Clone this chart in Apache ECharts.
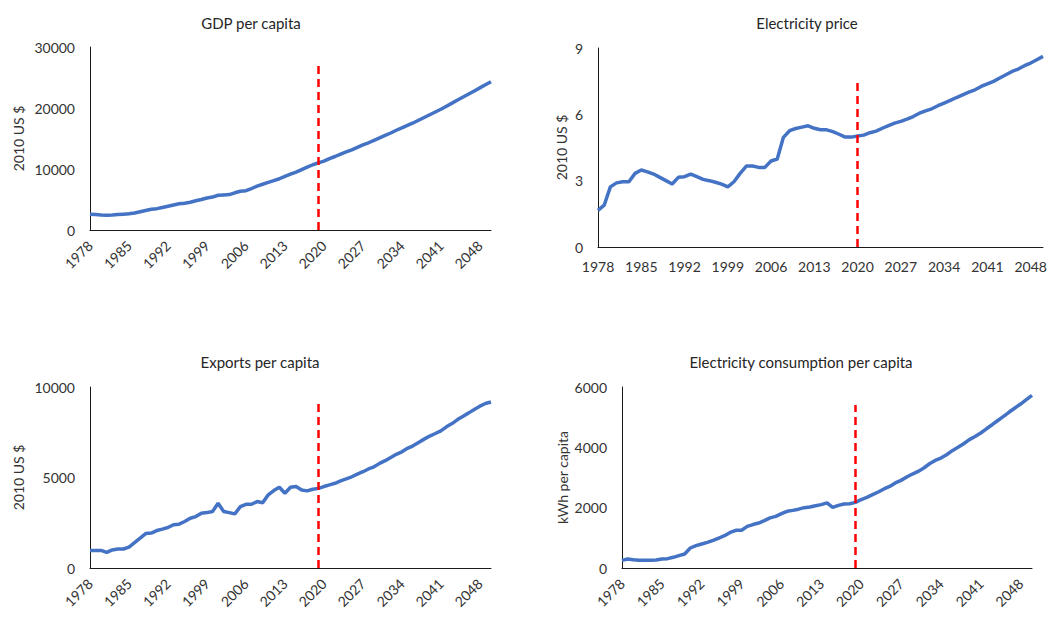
<!DOCTYPE html>
<html>
<head>
<meta charset="utf-8">
<script src="https://cdn.jsdelivr.net/npm/echarts@6/dist/echarts.min.js"></script>
<style>
html,body{margin:0;padding:0;background:#fff;}
#chart{width:1050px;height:617px;}
</style>
</head>
<body>
<div id="chart"></div>
<script>
const years = ['1978','1979','1980','1981','1982','1983','1984','1985','1986','1987','1988','1989','1990','1991','1992','1993','1994','1995','1996','1997','1998','1999','2000','2001','2002','2003','2004','2005','2006','2007','2008','2009','2010','2011','2012','2013','2014','2015','2016','2017','2018','2019','2020','2021','2022','2023','2024','2025','2026','2027','2028','2029','2030','2031','2032','2033','2034','2035','2036','2037','2038','2039','2040','2041','2042','2043','2044','2045','2046','2047','2048','2049','2050'];

const gdpPerCapita = [2600,2550,2450,2400,2450,2550,2600,2650,2800,3000,3200,3400,3500,3700,3900,4100,4300,4400,4550,4800,5000,5250,5400,5700,5750,5800,6100,6350,6450,6800,7200,7500,7800,8100,8400,8800,9150,9500,9900,10300,10700,11000,11300,11700,12050,12450,12800,13150,13550,13950,14300,14700,15100,15500,15900,16350,16750,17150,17550,18000,18450,18900,19350,19800,20300,20800,21300,21800,22300,22800,23300,23800,24300];

const electricityPrice = [1.66,1.89,2.72,2.9,2.95,2.95,3.33,3.48,3.4,3.3,3.15,3.0,2.85,3.15,3.18,3.3,3.18,3.06,3.0,2.93,2.84,2.72,2.95,3.33,3.66,3.66,3.6,3.6,3.89,3.98,4.96,5.26,5.36,5.42,5.48,5.37,5.3,5.3,5.22,5.1,4.97,4.97,5.02,5.06,5.17,5.24,5.37,5.49,5.6,5.68,5.78,5.9,6.05,6.16,6.25,6.39,6.51,6.63,6.76,6.88,7.0,7.11,7.26,7.38,7.49,7.64,7.79,7.94,8.05,8.2,8.32,8.47,8.62];

const exportsPerCapita = [970,970,970,860,1000,1050,1050,1150,1400,1650,1900,1930,2070,2150,2240,2390,2420,2570,2750,2840,3030,3060,3120,3580,3120,3060,2990,3390,3520,3520,3670,3610,4040,4280,4460,4130,4460,4500,4310,4260,4350,4400,4500,4590,4680,4810,4920,5040,5190,5320,5470,5590,5780,5930,6110,6280,6420,6610,6750,6940,7120,7290,7430,7580,7800,7980,8200,8390,8570,8760,8940,9090,9170];

const electricityConsumption = [254,300,276,254,254,254,265,300,310,354,410,464,663,740,796,850,917,994,1070,1180,1250,1250,1380,1440,1490,1570,1660,1710,1800,1880,1910,1950,2000,2020,2065,2100,2160,2010,2075,2120,2130,2175,2265,2340,2430,2520,2620,2705,2820,2905,3015,3115,3200,3315,3455,3565,3645,3755,3890,4000,4120,4255,4360,4475,4615,4750,4890,5025,5170,5305,5435,5580,5720];

const titles = ['GDP per capita','Electricity price','Exports per capita','Electricity consumption per capita'];
const yNames = ['2010 US $','2010 US $','2010 US $','kWh per capita'];
const yMax = [30000, 9, 10000, 6000];
const yInterval = [10000, 3, 5000, 2000];
const forecastYear = ['2019','2020','2019','2019'];
const forecastTop = [27500, 7.5, 9100, 5400];

const seriesData = [gdpPerCapita, electricityPrice, exportsPerCapita, electricityConsumption];

const FONT = 'Lato, "Open Sans", sans-serif';
const grids = [
  {left:90, top:47, width:401, height:183},
  {left:598, top:48, width:445, height:199},
  {left:90, top:387, width:401, height:181},
  {left:622, top:387, width:410, height:181}
];
const titlePos = [[246,10],[802,10],[255,349],[796,349]];
const nameGaps = [65, 30, 65, 53];
const rotates = [45, 0, 45, 45];
const labelMargins = [13, 12, 13, 13];

const option = {
  animation:false,
  backgroundColor:'#fff',
  title: titles.map((t,i)=>({
    text:t, left:titlePos[i][0], top:titlePos[i][1], textAlign:'center',
    textStyle:{fontFamily:FONT, fontSize:15, fontWeight:'normal', color:'#262626'}
  })),
  grid: grids.map(g=>Object.assign({containLabel:false}, g)),
  xAxis: grids.map((g,i)=>({
    type:'category', gridIndex:i, data:years, boundaryGap:false,
    axisLine:{lineStyle:{color:'#1a1a1a', width:1}},
    axisTick:{show:false},
    axisLabel:{interval:6, rotate:rotates[i], margin:labelMargins[i], fontFamily:FONT, fontSize:14, color:'#333'},
    splitLine:{show:false}
  })),
  yAxis: grids.map((g,i)=>({
    type:'value', gridIndex:i, min:0, max:yMax[i], interval:yInterval[i],
    name:yNames[i], nameLocation:'middle', nameGap:nameGaps[i], nameRotate:90,
    nameTextStyle:{fontFamily:FONT, fontSize:14, color:'#333'},
    axisLine:{show:true, lineStyle:{color:'#1a1a1a', width:1}},
    axisTick:{show:false},
    axisLabel:{fontFamily:FONT, fontSize:14, color:'#333', margin:15, formatter:v=>String(v)},
    splitLine:{show:false}
  })),
  series: seriesData.map((d,i)=>({
    type:'line', xAxisIndex:i, yAxisIndex:i, data:d, symbol:'none', smooth:false,
    lineStyle:{color:'#4472C4', width:3.5},
    markLine:{
      silent:true, symbol:'none', label:{show:false},
      lineStyle:{color:'#FF0000', width:2.5, type:[8,5]},
      data:[[{coord:[forecastYear[i],0]},{coord:[forecastYear[i],forecastTop[i]]}]]
    }
  }))
};

const chart = echarts.init(document.getElementById('chart'), null, {renderer:'svg'});
chart.setOption(option);
</script>
</body>
</html>
